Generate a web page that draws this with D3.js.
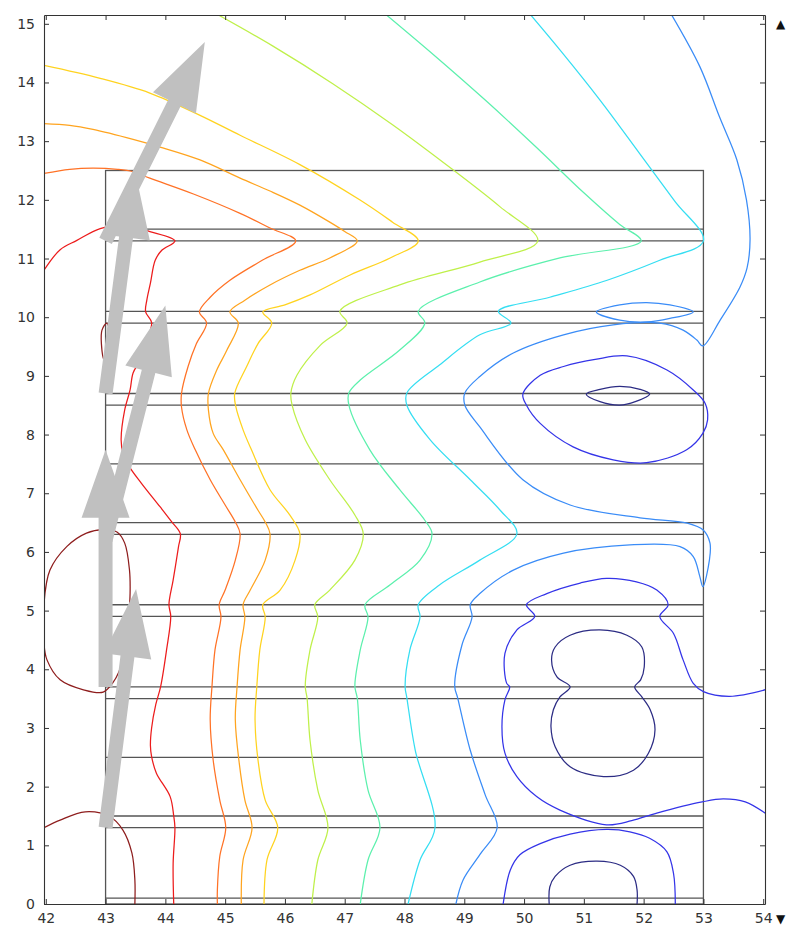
<!DOCTYPE html>
<html>
<head>
<meta charset="utf-8">
<script src="https://cdn.jsdelivr.net/npm/d3@7"></script>
<style>
  body { margin: 0; background: #fff; }
  svg { display: block; }
</style>
</head>
<body>
<svg id="chart" width="788" height="925"></svg>
<script>
// ---- axis ticks ----
const xTicks = [42, 43, 44, 45, 46, 47, 48, 49, 50, 51, 52, 53, 54];
const yTicks = [0, 1, 2, 3, 4, 5, 6, 7, 8, 9, 10, 11, 12, 13, 14, 15];

// ---- geometry: layered block and its interfaces ----
const blockX = [43, 53];
const blockY = [0, 12.5];
const interfaceY = [0.1, 1.3, 1.5, 2.5, 3.5, 3.7, 4.9, 5.1, 6.3, 6.5, 7.5, 8.5, 8.7, 9.9, 10.1, 11.3, 11.5];

// ---- isoline colours, highest level first ----
const levelColors = ["#8e1d1d", "#ec1c1c", "#ff7226", "#ffa41f", "#ffd31f",
                     "#bff04a", "#5cf0ad", "#35def2", "#3a8cf7", "#3434e8", "#2c2c84"];

// ---- isolines, one array of pieces per level (closed pieces repeat their first point) ----
const level1 = [
  [[41.97,1.30],[42.24,1.43],[42.66,1.57],[43.07,1.49],[43.29,1.26],[43.44,0.87],[43.49,0.41],[43.49,0]],
  [[41.97,5.12],[42.07,5.69],[42.35,6.09],[42.68,6.32],[42.96,6.38],[43.19,6.34],[43.32,6.15],[43.40,5.69],[43.41,5.30],[43.38,4.80],[43.32,4.30],[43.22,3.95],[43.12,3.77],[42.96,3.61],[42.63,3.65],[42.24,3.82],[42.02,4.16],[41.97,4.44]],
  [[43.02,9.90],[42.94,9.78],[42.93,9.55],[42.98,9.27],[43.06,9.45],[43.07,9.72],[43.02,9.90]]
];
const level2 = [
  [[41.97,10.80],[42.24,11.15],[42.52,11.31],[42.91,11.51],[43.30,11.57],[43.74,11.46],[44.16,11.30],[43.94,11.14],[43.83,10.97],[43.75,10.58],[43.69,10.29],[43.67,10.09],[43.77,9.91],[43.71,9.66],[43.58,9.27],[43.46,9.05],[43.41,8.76],[43.32,8.42],[43.26,7.91],[43.29,7.69],[43.40,7.45],[43.60,7.17],[43.91,6.77],[44.10,6.52],[44.25,6.31],[44.22,6.09],[44.13,5.52],[44.06,5.10],[44.09,4.90],[44.02,4.33],[43.92,3.70],[43.84,3.40],[43.77,3.00],[43.75,2.70],[43.77,2.51],[43.85,2.23],[44.08,1.83],[44.14,1.50],[44.16,1.30],[44.13,0.69],[44.14,0]]
];
const level3 = [
  [[41.97,12.45],[42.40,12.52],[42.79,12.54],[43.20,12.52],[43.46,12.48],[43.74,12.37],[44.47,12.10],[45.25,11.77],[45.75,11.52],[46.18,11.30],[45.62,10.97],[45.08,10.63],[44.75,10.34],[44.57,10.09],[44.69,9.90],[44.52,9.55],[44.38,9.16],[44.27,8.70],[44.27,8.47],[44.36,8.08],[44.50,7.74],[44.75,7.23],[45.00,6.80],[45.17,6.51],[45.25,6.31],[45.17,5.86],[45.00,5.35],[44.90,5.10],[44.93,4.89],[44.83,4.33],[44.78,3.71],[44.75,3.14],[44.80,2.45],[44.91,1.77],[45.01,1.30],[44.91,0.81],[44.87,0.24],[44.87,0]]
];
const level4 = [
  [[41.97,13.30],[42.40,13.27],[42.79,13.20],[43.46,13.03],[43.91,12.90],[44.58,12.68],[45.25,12.37],[45.75,12.15],[46.25,11.91],[46.75,11.62],[47.00,11.46],[47.21,11.30],[46.75,11.01],[46.25,10.80],[45.75,10.55],[45.33,10.29],[45.08,10.09],[45.22,9.90],[45.03,9.44],[44.86,9.10],[44.72,8.70],[44.72,8.42],[44.80,8.02],[44.97,7.74],[45.25,7.23],[45.55,6.71],[45.67,6.51],[45.75,6.31],[45.67,5.86],[45.42,5.35],[45.30,5.10],[45.33,4.89],[45.25,4.33],[45.20,3.71],[45.17,3.14],[45.23,2.45],[45.33,1.77],[45.45,1.30],[45.30,0.75],[45.27,0]]
];
const level5 = [
  [[41.97,14.29],[42.91,14.07],[43.74,13.82],[44.58,13.44],[45.25,13.10],[46.25,12.60],[47.25,12.00],[47.80,11.62],[48.23,11.30],[47.76,11.01],[47.09,10.72],[46.42,10.38],[46.00,10.21],[45.63,10.09],[45.78,9.90],[45.55,9.55],[45.36,9.16],[45.16,8.70],[45.18,8.47],[45.30,8.08],[45.44,7.74],[45.75,7.06],[46.08,6.63],[46.25,6.31],[46.17,5.86],[45.92,5.35],[45.63,5.10],[45.67,4.89],[45.58,4.33],[45.53,3.71],[45.50,3.14],[45.55,2.45],[45.67,1.77],[45.88,1.30],[45.70,0.75],[45.65,0]]
];
const level6 = [
  [[44.80,15.20],[45.80,14.62],[46.80,13.98],[47.80,13.28],[48.80,12.52],[49.60,11.88],[50.23,11.30],[49.26,10.94],[47.92,10.55],[46.92,10.10],[47.04,9.90],[46.59,9.52],[46.20,9.01],[46.10,8.71],[46.12,8.50],[46.34,7.91],[46.75,7.23],[47.17,6.63],[47.31,6.31],[47.17,5.86],[46.75,5.35],[46.50,5.10],[46.55,4.89],[46.42,4.33],[46.34,3.71],[46.37,3.51],[46.42,2.79],[46.55,1.94],[46.72,1.30],[46.55,0.75],[46.45,0]]
];
const level7 = [
  [[47.64,15.20],[48.50,14.46],[49.35,13.70],[50.20,12.90],[51.00,12.12],[51.60,11.58],[51.96,11.30],[50.60,11.01],[49.26,10.60],[48.23,10.10],[48.34,9.90],[47.92,9.44],[47.26,8.93],[47.07,8.71],[47.07,8.50],[47.42,7.74],[47.92,7.06],[48.34,6.54],[48.46,6.31],[48.26,5.86],[47.76,5.44],[47.34,5.10],[47.39,4.89],[47.26,4.33],[47.17,3.71],[47.21,3.51],[47.26,2.79],[47.39,1.94],[47.59,1.30],[47.39,0.75],[47.26,0]]
];
const level8 = [
  [[50.07,15.20],[50.62,14.53],[51.27,13.70],[51.94,12.78],[52.52,11.98],[53.00,11.30],[52.27,10.97],[51.39,10.63],[50.43,10.34],[49.57,10.10],[49.78,9.90],[49.26,9.70],[48.59,9.19],[48.04,8.71],[48.04,8.50],[48.43,7.91],[49.10,7.23],[49.60,6.71],[49.88,6.31],[49.26,5.86],[48.59,5.44],[48.23,5.10],[48.26,4.89],[48.09,4.33],[48.01,3.71],[48.04,3.51],[48.18,2.62],[48.51,1.30],[48.26,0.75],[48.06,0]]
];
const level9 = [
  [[52.44,15.20],[52.94,14.27],[53.27,13.41],[53.56,12.68],[53.72,12.00],[53.78,11.32],[53.73,10.84],[53.61,10.51],[53.28,9.95],[52.99,9.51],[52.89,9.61],[52.66,9.78],[52.27,9.90],[51.49,9.87],[50.66,9.70],[49.82,9.39],[49.26,8.99],[49.01,8.71],[49.01,8.50],[49.26,8.13],[49.98,7.23],[50.77,6.80],[51.94,6.58],[52.73,6.49],[53.00,6.37],[53.11,6.15],[53.10,5.86],[52.99,5.41],[52.94,5.58],[52.83,5.92],[52.61,6.09],[51.77,6.12],[50.66,5.98],[49.82,5.69],[49.26,5.29],[49.10,5.10],[49.13,4.89],[48.96,4.41],[48.84,3.71],[48.89,3.51],[49.10,2.62],[49.35,1.86],[49.55,1.30],[49.26,0.84],[48.98,0.41],[48.86,0]],
  [[51.21,10.09],[51.60,10.21],[52.05,10.25],[52.44,10.21],[52.83,10.09],[52.44,9.98],[52.05,9.92],[51.60,9.95],[51.21,10.09]]
];
const level10 = [
  [[49.98,8.69],[50.27,9.01],[50.66,9.16],[51.19,9.28],[51.72,9.34],[52.39,9.10],[52.83,8.76],[53.03,8.53],[53.07,8.25],[52.99,8.02],[52.72,7.74],[52.05,7.52],[51.49,7.57],[50.82,7.79],[50.27,8.19],[50.04,8.50],[49.98,8.69]],
  [[54.10,3.67],[53.44,3.54],[53.00,3.62],[52.83,3.76],[52.66,4.16],[52.50,4.61],[52.27,4.90],[52.41,5.10],[52.22,5.35],[51.88,5.49],[51.38,5.55],[50.94,5.47],[50.38,5.29],[50.04,5.10],[50.18,4.90],[49.88,4.67],[49.68,4.27],[49.71,3.76],[49.76,3.70],[49.68,3.48],[49.63,3.02],[49.68,2.57],[49.88,2.17],[50.21,1.83],[50.60,1.60],[51.38,1.35],[51.80,1.42],[52.22,1.55],[52.98,1.74],[53.33,1.79],[53.70,1.74],[54.10,1.50]],
  [[49.65,0],[49.77,0.58],[49.93,0.84],[50.27,1.03],[50.77,1.19],[51.38,1.27],[51.77,1.23],[52.10,1.12],[52.39,0.89],[52.50,0.52],[52.53,0]]
];
const level11 = [
  [[50.42,0],[50.43,0.29],[50.52,0.47],[50.77,0.66],[51.22,0.73],[51.61,0.66],[51.83,0.47],[51.89,0.24],[51.89,0]],
  [[50.77,3.70],[50.55,3.87],[50.46,4.16],[50.52,4.38],[50.77,4.58],[51.27,4.67],[51.72,4.58],[51.97,4.38],[52.01,4.04],[51.95,3.82],[51.85,3.70],[51.97,3.53],[52.11,3.31],[52.19,2.97],[52.08,2.57],[51.83,2.28],[51.33,2.17],[50.77,2.34],[50.52,2.68],[50.45,3.02],[50.49,3.31],[50.60,3.53],[50.77,3.70]],
  [[51.04,8.69],[51.27,8.77],[51.60,8.82],[51.94,8.77],[52.10,8.69],[51.86,8.56],[51.60,8.50],[51.27,8.56],[51.04,8.69]]
];
const levels = [level1, level2, level3, level4, level5, level6, level7, level8, level9, level10, level11];

// ---- boundary flux arrows: start points and vectors ----
const arrowTails = [[43, 1.3], [43, 3.7], [43, 6.2], [43, 8.7], [43, 11.3]];
const arrowVectors = [[0.51, 4.07], [0.0, 4.04], [1.0, 4.0], [0.49, 3.81], [1.66, 3.39]];

// ---- layout ----
const svg = d3.select("#chart");
const padL = 44, padR = 765, padT = 15, padB = 904;
const x = d3.scaleLinear().domain([41.97, 54.03]).range([padL, padR]);
const y = d3.scaleLinear().domain([0, 15.15]).range([padB, padT]);

svg.append("defs").append("clipPath").attr("id", "plotClip")
  .append("rect").attr("x", padL).attr("y", padT)
  .attr("width", padR - padL).attr("height", padB - padT);

const plot = svg.append("g").attr("clip-path", "url(#plotClip)");

// geometry edges
const geo = plot.append("g").attr("fill", "none").attr("stroke", "#555").attr("stroke-width", 1.3);
geo.append("rect")
  .attr("x", x(blockX[0])).attr("y", y(blockY[1]))
  .attr("width", x(blockX[1]) - x(blockX[0]))
  .attr("height", y(blockY[0]) - y(blockY[1]));
geo.selectAll("line.iface").data(interfaceY).join("line")
  .attr("class", "iface")
  .attr("x1", x(blockX[0])).attr("x2", x(blockX[1]))
  .attr("y1", d => y(d)).attr("y2", d => y(d));

// isolines
const openLine = d3.line().x(d => x(d[0])).y(d => y(d[1])).curve(d3.curveCatmullRom.alpha(0.5));
const closedLine = d3.line().x(d => x(d[0])).y(d => y(d[1])).curve(d3.curveCatmullRomClosed.alpha(0.5));
function piecePath(p) {
  const a = p[0], b = p[p.length - 1];
  if (a[0] === b[0] && a[1] === b[1]) return closedLine(p.slice(0, -1));
  return openLine(p);
}
const iso = plot.append("g").attr("fill", "none").attr("stroke-width", 1.25)
  .attr("stroke-linejoin", "round");
levels.forEach((pieces, i) => {
  iso.append("g").attr("stroke", levelColors[i])
    .selectAll("path").data(pieces).join("path")
    .attr("d", piecePath);
});

// arrows
function arrowPoints(t, v) {
  const x0 = x(t[0]), y0 = y(t[1]);
  const x1 = x(t[0] + v[0]), y1 = y(t[1] + v[1]);
  const len = Math.hypot(x1 - x0, y1 - y0);
  const ux = (x1 - x0) / len, uy = (y1 - y0) / len;
  const nx = -uy, ny = ux;
  const sw = 7, hw = 24, hl = 68;
  const bx = x1 - ux * hl, by = y1 - uy * hl;
  return [
    [x0 + nx * sw, y0 + ny * sw],
    [bx + nx * sw, by + ny * sw],
    [bx + nx * hw, by + ny * hw],
    [x1, y1],
    [bx - nx * hw, by - ny * hw],
    [bx - nx * sw, by - ny * sw],
    [x0 - nx * sw, y0 - ny * sw]
  ];
}
plot.append("g").attr("fill", "#c0c0c0")
  .selectAll("polygon").data(arrowTails).join("polygon")
  .attr("points", (d, i) => arrowPoints(d, arrowVectors[i]).map(p => p.join(",")).join(" "));

// axes
const font = '"DejaVu Sans", sans-serif';
function styleAxis(g) {
  g.select(".domain").attr("stroke", "#333").attr("stroke-width", 1.1);
  g.selectAll(".tick line").attr("stroke", "#333").attr("stroke-width", 1);
  g.selectAll(".tick text").attr("fill", "#333").style("font-family", font).style("font-size", "14px");
}
svg.append("g").attr("transform", `translate(0,${padB})`)
  .call(d3.axisBottom(x).tickValues(xTicks).tickSizeInner(-5).tickSizeOuter(0).tickPadding(9).tickFormat(d3.format("d")))
  .call(styleAxis);
svg.append("g").attr("transform", `translate(${padL},0)`)
  .call(d3.axisLeft(y).tickValues(yTicks).tickSizeInner(-5).tickSizeOuter(0).tickPadding(9).tickFormat(d3.format("d")))
  .call(styleAxis);
svg.append("g").attr("transform", `translate(0,${padT})`)
  .call(d3.axisTop(x).tickValues(xTicks).tickSizeInner(-5).tickSizeOuter(0).tickFormat(""))
  .call(styleAxis);
svg.append("g").attr("transform", `translate(${padR},0)`)
  .call(d3.axisRight(y).tickValues(yTicks).tickSizeInner(-5).tickSizeOuter(0).tickFormat(""))
  .call(styleAxis);

// range markers at the right margin
svg.append("text").attr("x", 776).attr("y", 28).text("\u25B2")
  .attr("fill", "#111").style("font-family", font).style("font-size", "12px");
svg.append("text").attr("x", 776).attr("y", 923).text("\u25BC")
  .attr("fill", "#111").style("font-family", font).style("font-size", "12px");
</script>
</body>
</html>
